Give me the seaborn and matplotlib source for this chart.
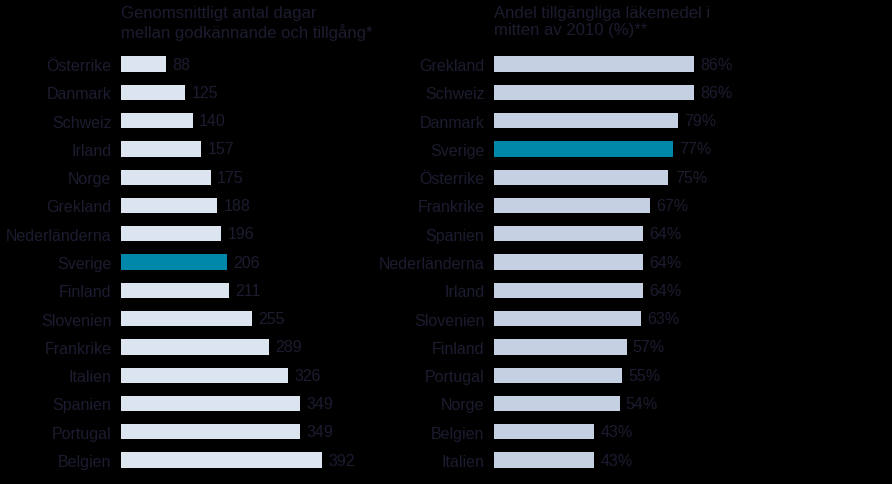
import seaborn as sns
import matplotlib.pyplot as plt
import pandas as pd

# left panel: average number of days between approval and availability
days_countries = ['Österrike', 'Danmark', 'Schweiz', 'Irland', 'Norge', 'Grekland',
                  'Nederländerna', 'Sverige', 'Finland', 'Slovenien', 'Frankrike',
                  'Italien', 'Spanien', 'Portugal', 'Belgien']
days_values = [88, 125, 140, 157, 175, 188, 196, 206, 211, 255, 289, 326, 349, 349, 392]

# right panel: share of available drugs mid 2010 (%)
share_countries = ['Grekland', 'Schweiz', 'Danmark', 'Sverige', 'Österrike', 'Frankrike',
                   'Spanien', 'Nederländerna', 'Irland', 'Slovenien', 'Finland',
                   'Portugal', 'Norge', 'Belgien', 'Italien']
share_values = [86, 86, 79, 77, 75, 67, 64, 64, 64, 63, 57, 55, 54, 43, 43]

title_left = 'Genomsnittligt antal dagar\nmellan godkännande och tillgång*'
title_right = 'Andel tillgängliga läkemedel i\nmitten av 2010 (%)**'

highlight = 'Sverige'
blue = '#0088aa'
txt = '#1c1c30'

sns.set_style('white')
plt.rcParams['font.family'] = ['Liberation Sans', 'DejaVu Sans']

fig = plt.figure(figsize=(8.92, 4.85), dpi=100)
fig.patch.set_facecolor('black')

W, H = 892, 485
top_px, h_px = 50.9, 424.3
ax1 = fig.add_axes([121 / W, 1 - (top_px + h_px) / H, 230.7 / W, h_px / H])
ax2 = fig.add_axes([494 / W, 1 - (top_px + h_px) / H, 232.6 / W, h_px / H])


def panel(ax, countries, values, light, xmax, fmt, title):
    df = pd.DataFrame({'land': countries, 'v': values})
    pal = {c: (blue if c == highlight else light) for c in countries}
    sns.barplot(data=df, x='v', y='land', hue='land', palette=pal, legend=False,
                width=0.54, ax=ax, saturation=1, linewidth=0)
    ax.set_xlim(0, xmax)
    ax.set_ylim(14.5, -0.5)
    ax.set_facecolor('black')
    for s in ax.spines.values():
        s.set_visible(False)
    ax.set_xticks([])
    ax.set_xlabel('')
    ax.set_ylabel('')
    ax.tick_params(axis='y', length=0, pad=7, labelsize=11.5, labelcolor=txt)
    for cont in ax.containers:
        ax.bar_label(cont, fmt=fmt, padding=4.5, fontsize=11.5, color=txt)
    x0 = ax.get_position().x0
    fig.text(x0, 1 - 6 / H, title, ha='left', va='top',
             fontsize=12, color=txt, linespacing=1.2)


panel(ax1, days_countries, days_values, '#dce4ef', 450, '%d', title_left)
panel(ax2, share_countries, share_values, '#c5d0e3', 100, '%d%%', title_right)

fig.savefig('out.png', dpi=100, facecolor=fig.get_facecolor())
